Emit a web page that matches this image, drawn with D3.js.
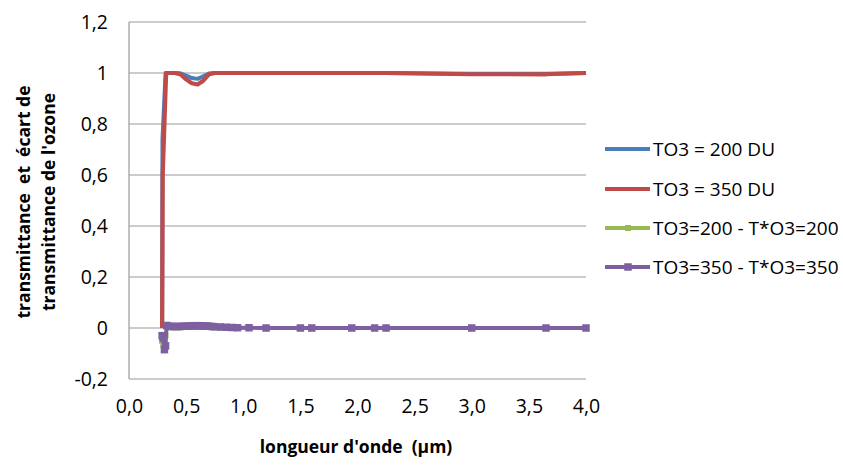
<!DOCTYPE html>
<html>
<head>
<meta charset="utf-8">
<script src="https://cdn.jsdelivr.net/npm/d3@7"></script>
<style>
  html, body { margin: 0; padding: 0; background: #fff; }
  svg { display: block; font-family: "Open Sans", "Lato", sans-serif; }
  text { white-space: pre; }
</style>
</head>
<body>
<svg id="chart" width="843" height="466"></svg>
<script>
// ---- data ----
const wl200 = [0.29, 0.293, 0.32, 0.33, 0.35, 0.40, 0.45, 0.50, 0.55, 0.60, 0.65, 0.70, 0.75, 0.80, 0.85, 0.90, 0.95, 1.05, 1.2, 1.5, 1.6, 1.95, 2.15, 2.25, 3.0, 3.65, 4.0];
const t200  = [0,    0.74,  1.0,  1.0,  1.0,  1.0,  0.999, 0.99, 0.98, 0.977, 0.987, 0.998, 1.0, 1.0, 1.0, 1.0, 1.0, 1.0, 1.0, 1.0, 1.0, 1.0, 1.0, 1.0, 0.997, 0.997, 1.0];
const wl350 = [0.29, 0.295, 0.325, 0.33, 0.35, 0.40, 0.45, 0.50, 0.55, 0.60, 0.65, 0.70, 0.75, 0.80, 0.85, 0.90, 0.95, 1.05, 1.2, 1.5, 1.6, 1.95, 2.15, 2.25, 3.0, 3.65, 4.0];
const t350  = [0,    0.6,   1.0,  1.0,  1.0,  1.0,  0.995, 0.975, 0.96, 0.955, 0.97, 0.995, 1.0, 1.0, 1.0, 1.0, 1.0, 1.0, 1.0, 1.0, 1.0, 1.0, 1.0, 1.0, 0.995, 0.995, 1.0];
const wlD  = [0.29, 0.30, 0.31, 0.32, 0.33, 0.35, 0.375, 0.40, 0.425, 0.45, 0.475, 0.50, 0.525, 0.55, 0.575, 0.60, 0.625, 0.65, 0.675, 0.70, 0.725, 0.75, 0.80, 0.85, 0.90, 0.95, 1.05, 1.2, 1.5, 1.6, 1.95, 2.15, 2.25, 3.0, 3.65, 4.0];
const d200 = [-0.05, -0.065, -0.04, -0.03, 0.004, 0.003, 0.003, 0.003, 0.003, 0.003, 0.004, 0.004, 0.004, 0.005, 0.005, 0.005, 0.005, 0.004, 0.004, 0.004, 0.003, 0.003, 0.002, 0.002, 0.001, 0.001, 0.0, 0.0, 0.0, 0.0, 0.0, 0.0, 0.0, 0.0, 0.0, 0.0];
const d350 = [-0.03, -0.04, -0.085, -0.07, 0.01, 0.007, 0.006, 0.006, 0.006, 0.006, 0.007, 0.007, 0.008, 0.008, 0.009, 0.009, 0.009, 0.008, 0.008, 0.007, 0.006, 0.005, 0.004, 0.003, 0.002, 0.001, 0.001, 0.0, 0.0, 0.0, 0.0, 0.0, 0.0, 0.0, 0.0, 0.0];
const seriesNames = ["TO3 = 200 DU", "TO3 = 350 DU", "TO3=200 - T*O3=200", "TO3=350 - T*O3=350"];
const seriesColors = ["#4A7EBB", "#BE4B48", "#98B954", "#7D60A0"];
const xTicks = [0, 0.5, 1.0, 1.5, 2.0, 2.5, 3.0, 3.5, 4.0];
const yTicks = [-0.2, 0, 0.2, 0.4, 0.6, 0.8, 1.0, 1.2];
const xTitle = "longueur d'onde  (µm)";
const yTitleLines = ["transmittance  et  écart de", "transmittance de l'ozone"];

// ---- layout ----
const svg = d3.select("#chart");
const x = d3.scaleLinear().domain([0, 4]).range([129, 586]);
const y = d3.scaleLinear().domain([-0.2, 1.2]).range([379, 22]);
const fmtX = d => d3.format(".1f")(d).replace(".", ",");
const fmtY = d => { const s = d3.format("~g")(+d.toFixed(2)); return s.replace(".", ",").replace("−", "-"); };

// gridlines
svg.append("g").selectAll("line").data(yTicks).join("line")
  .attr("x1", x(0)).attr("x2", x(4))
  .attr("y1", d => y(d)).attr("y2", d => y(d))
  .attr("stroke", "#9a9a9a").attr("stroke-width", 1.2);
// left axis line
svg.append("line").attr("x1", x(0)).attr("x2", x(0)).attr("y1", y(1.2)).attr("y2", y(-0.2))
  .attr("stroke", "#9a9a9a").attr("stroke-width", 1.2);

// axes labels via d3 axes
const yAxis = svg.append("g").attr("transform", `translate(${x(0)},0)`)
  .call(d3.axisLeft(y).tickValues(yTicks).tickFormat(fmtY).tickSize(0).tickPadding(21));
yAxis.select(".domain").remove();
yAxis.selectAll("text").attr("font-size", 19.5).attr("fill", "#000").attr("font-family", "Open Sans");

const xAxis = svg.append("g").attr("transform", `translate(0,${y(-0.2)})`)
  .call(d3.axisBottom(x).tickValues(xTicks).tickFormat(fmtX).tickSize(0).tickPadding(20));
xAxis.select(".domain").remove();
xAxis.selectAll("text").attr("font-size", 19.5).attr("fill", "#000").attr("font-family", "Open Sans");

// titles
svg.append("text").attr("x", 356).attr("y", 453).attr("text-anchor", "middle")
  .attr("font-size", 17.5).attr("font-weight", "bold").text(xTitle);
const yT = svg.append("g").attr("transform", "translate(0,202) rotate(-90)");
yTitleLines.forEach((t, i) => {
  yT.append("text").attr("x", 0).attr("y", 30 + i * 25).attr("text-anchor", "middle")
    .attr("font-size", 17.5).attr("font-weight", "bold").text(t);
});

// lines
const line = d3.line().x(d => x(d[0])).y(d => y(d[1]));
const plot = svg.append("g");
const pairs = (xs, ys) => xs.map((v, i) => [v, ys[i]]);
const series = [
  { pts: pairs(wl200, t200), color: seriesColors[0], w: 4, marker: 0 },
  { pts: pairs(wl350, t350), color: seriesColors[1], w: 4.2, marker: 0 },
  { pts: pairs(wlD, d200), color: seriesColors[2], w: 3.5, marker: 6 },
  { pts: pairs(wlD, d350), color: seriesColors[3], w: 3.8, marker: 7.5 }
];
series.forEach(s => {
  plot.append("path").datum(s.pts).attr("d", line)
    .attr("fill", "none").attr("stroke", s.color).attr("stroke-width", s.w)
    .attr("stroke-linejoin", "round");
  if (s.marker) {
    plot.append("g").selectAll("rect").data(s.pts).join("rect")
      .attr("x", d => x(d[0]) - s.marker / 2).attr("y", d => y(d[1]) - s.marker / 2)
      .attr("width", s.marker).attr("height", s.marker).attr("fill", s.color);
  }
});

// legend
const legY = [149, 189, 228, 267];
const leg = svg.append("g");
seriesNames.forEach((n, i) => {
  const g = leg.append("g").attr("transform", `translate(0,${legY[i]})`);
  g.append("line").attr("x1", 605).attr("x2", 650).attr("y1", 0).attr("y2", 0)
    .attr("stroke", seriesColors[i]).attr("stroke-width", 4);
  if (series[i].marker) {
    const m = series[i].marker;
    g.append("rect").attr("x", 628 - m / 2).attr("y", -m / 2).attr("width", m).attr("height", m)
      .attr("fill", seriesColors[i]);
  }
  g.append("text").attr("x", 653).attr("y", 0).attr("dy", "0.35em")
    .attr("font-size", 19).attr("fill", "#000").text(n);
});
</script>
</body>
</html>
